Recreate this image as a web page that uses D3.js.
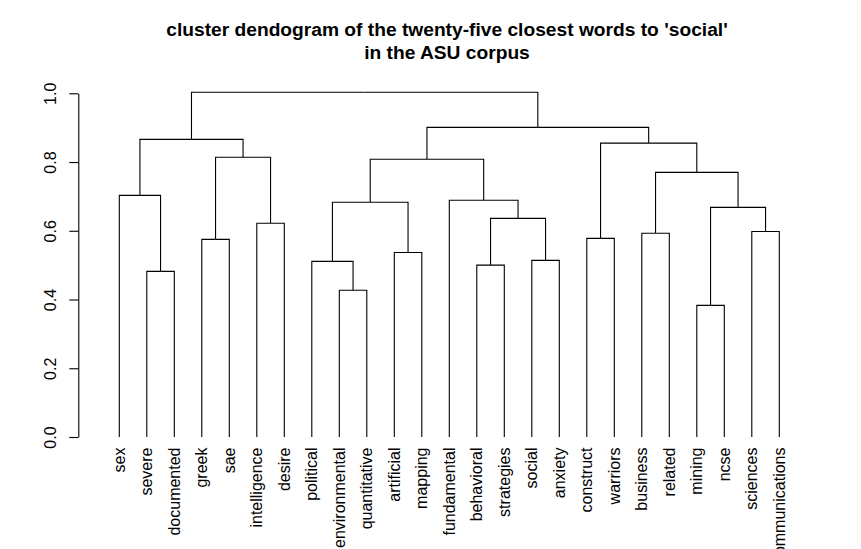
<!DOCTYPE html>
<html>
<head>
<meta charset="utf-8">
<script src="https://cdn.jsdelivr.net/npm/d3@7"></script>
<style>
	body { margin: 0; background: #fff; }
	svg { font-family: "Liberation Sans", Arial, sans-serif; }
</style>
</head>
<body>
<svg id="chart" width="861" height="549"></svg>
<script>

// leaf order along the x axis
var labels = ["sex", "severe", "documented", "greek", "sae", "intelligence", "desire",
	"political", "environmental", "quantitative", "artificial", "mapping",
	"fundamental", "behavioral", "strategies", "social", "anxiety",
	"construct", "warriors", "business", "related", "mining", "ncse",
	"sciences", "communications"];

// merges: a leaf name or the index of an earlier merge
var merges = [
	["mining", "ncse"],
	["environmental", "quantitative"],
	["severe", "documented"],
	["behavioral", "strategies"],
	["political", 1],
	["social", "anxiety"],
	["artificial", "mapping"],
	["greek", "sae"],
	["construct", "warriors"],
	["business", "related"],
	["sciences", "communications"],
	["intelligence", "desire"],
	[3, 5],
	[0, 10],
	[4, 6],
	["fundamental", 12],
	["sex", 2],
	[9, 13],
	[14, 15],
	[7, 11],
	[8, 17],
	[16, 19],
	[18, 20],
	[21, 22]
];

var heights = [0.383, 0.427, 0.482, 0.500, 0.511, 0.514, 0.537, 0.575, 0.578,
	0.593, 0.598, 0.622, 0.636, 0.668, 0.683, 0.689, 0.703, 0.770, 0.808,
	0.814, 0.855, 0.866, 0.901, 1.003];

var yTicks = [0, 0.2, 0.4, 0.6, 0.8, 1.0];

var title = ["cluster dendogram of the twenty-five closest words to 'social'", "in the ASU corpus"];

var svg = d3.select("#chart");

var x = d3.scalePoint().domain(labels).range([119.3, 779.3]);
var y = d3.scaleLinear().domain([0, 1]).range([437, 93.3]);

// build tree from the merge list
var nodes = merges.map( (m, i) => ({ kids: m, h: heights[i] }) );

function nodeOf(k)	{
	if(typeof k === "string")
		return { name: k, h: 0 };
	return nodes[k];
}

nodes.forEach( n => {
	n.children = n.kids.map(nodeOf);
});

var root = d3.hierarchy(nodes[nodes.length - 1]);

root.eachAfter( d => {
	if(!d.children)
		d.px = x(d.data.name);
	else
		d.px = (d.children[0].px + d.children[1].px) / 2;
	d.py = y(d.data.h);
});

var links = [];
root.each( d => {
	if(d.children)	{
		d.children.forEach( c => links.push({ s: d, t: c }) );
	}
});

svg.append("g")
	.selectAll("path")
	.data(links)
	.join("path")
	.attr("d", l => `M${l.t.px},${l.t.py}V${l.s.py}H${l.s.px}`)
	.attr("fill", "none")
	.attr("stroke", "#000")
	.attr("stroke-width", 1.1);

// leaf labels
svg.append("g")
	.selectAll("text")
	.data(labels)
	.join("text")
	.attr("transform", d => `translate(${x(d) + 5.5},447.5) rotate(-90)`)
	.attr("text-anchor", "end")
	.attr("font-size", 16)
	.text(d => d);

// y axis
var yAxis = d3.axisLeft(y)
	.tickValues(yTicks)
	.tickFormat(d3.format(".1f"))
	.tickSize(9)
	.tickSizeOuter(0);

var ga = svg.append("g")
	.attr("transform", "translate(78.3,0)")
	.call(yAxis);

ga.select(".domain").attr("stroke", "#000").attr("stroke-width", 1.1);
ga.selectAll(".tick line").attr("stroke", "#000").attr("stroke-width", 1.1);
ga.selectAll(".tick text")
	.attr("x", null)
	.attr("dy", null)
	.attr("text-anchor", "middle")
	.attr("fill", "#000")
	.attr("font-size", 16)
	.attr("font-family", "Liberation Sans, Arial, sans-serif")
	.attr("transform", "translate(-22.5,0) rotate(-90)");

// title
svg.append("g")
	.selectAll("text")
	.data(title)
	.join("text")
	.attr("x", 447)
	.attr("y", (d, i) => 36 + i * 22.5)
	.attr("text-anchor", "middle")
	.attr("font-weight", "bold")
	.attr("font-size", 19.2)
	.text(d => d);

</script>
</body>
</html>
